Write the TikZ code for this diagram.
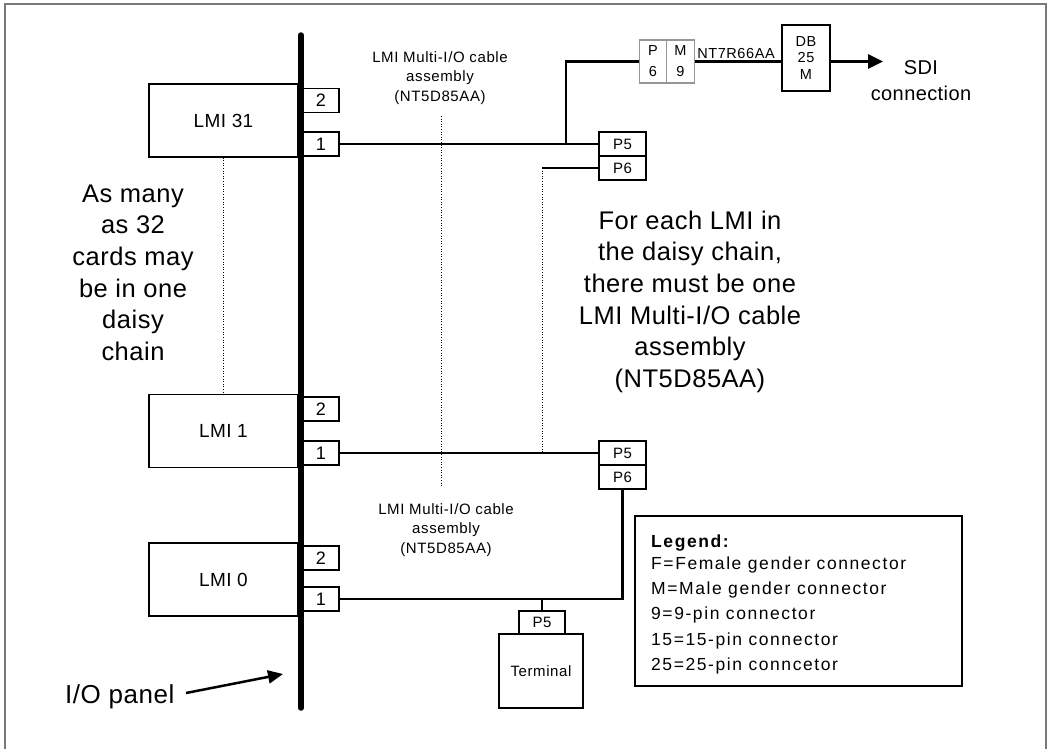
\documentclass[tikz,border=0pt]{standalone}
\usepackage{fontspec}
\setmainfont{Liberation Sans}
\newfontfamily\fA[LetterSpace=2]{Liberation Sans}
\newfontfamily\fL[LetterSpace=9]{Liberation Sans}
\newfontfamily\fS[LetterSpace=4]{Liberation Sans}
\usetikzlibrary{arrows.meta}
\definecolor{framegray}{RGB}{120,120,120}
\definecolor{boxgray}{RGB}{150,150,150}
\begin{document}
\begin{tikzpicture}[x=1pt,y=-1pt,
  box/.style={draw, line width=1.2pt, inner sep=0pt},
  card/.style={box, minimum width=149pt, minimum height=73pt, font=\fA\fontsize{19}{22}\selectfont},
  port/.style={box, minimum width=36pt, minimum height=24pt, font=\fA\fontsize{18}{20}\selectfont},
  pconn/.style={box, minimum width=47pt, minimum height=24pt, font=\fS\fontsize{15}{16}\selectfont},
  gcell/.style={draw=boxgray, line width=1.2pt, inner sep=0pt, minimum width=27.5pt, minimum height=43pt, align=center, font=\fS\fontsize{14.5}{21}\selectfont},
  cable/.style={line width=2.8pt},
  dots/.style={line width=1pt, dash pattern=on 1pt off 1.6pt},
  bigtext/.style={inner sep=0pt, align=center, font=\fA\fontsize{25.5}{31.7}\selectfont},
  smalltext/.style={inner sep=0pt, align=center, font=\fS\fontsize{15}{19.5}\selectfont}]
\useasboundingbox (0,0) rectangle (1050,748);
\fill[white] (0,0) rectangle (1050,748);
\draw[framegray, line width=1.5pt] (5,760) -- (5,4) -- (1046,4) -- (1046,760);

% I/O panel
\coordinate (panT) at (301,35);
\coordinate (panB) at (301,708);
\draw[line width=5.5pt, line cap=round] (panT) -- (panB);

% cards
\node[card] (lmi31) at (223.5,120.5) {LMI 31};
\node[card] (lmi1) at (223.5,431) {LMI 1};
\node[card] (lmi0) at (223.5,579.5) {LMI 0};

% ports
\node[port] (p31b) at (321,100.5) {2};
\node[port] (p31a) at (321,144) {1};
\node[port] (p1b) at (321,409) {2};
\node[port] (p1a) at (321,453) {1};
\node[port] (p0b) at (321,558) {2};
\node[port] (p0a) at (321,599) {1};

% connector pairs
\node[pconn] (p5a) at (622.5,144) {P5};
\node[pconn] (p6a) at (622.5,168) {P6};
\node[pconn] (p5b) at (622.5,453) {P5};
\node[pconn] (p6b) at (622.5,477) {P6};

% P6 / M9 adapter
\node[gcell] (pc) at (653,61.5) {P\\6};
\node[gcell] (mc) at (680.5,61.5) {M\\9};

% DB25M
\node[box, minimum width=48pt, minimum height=66pt, align=center, font=\fS\fontsize{14.5}{16.5}\selectfont] (db) at (806,58) {DB\\25\\M};

% terminal
\node[box, minimum width=46pt, minimum height=23pt, font=\fS\fontsize{15}{16}\selectfont] (tp5) at (542,622.5) {P5};
\node[box, minimum width=84pt, minimum height=74pt, font=\fS\fontsize{15}{18}\selectfont] (term) at (541,671) {Terminal};

% cables
\coordinate (br) at (566,144);
\coordinate (c6) at (542,168);
\coordinate (tj) at (542,599);
\coordinate (sdi) at (883,61.5);
\draw[cable] (p31a.east) -- (p5a.west);
\draw[cable] (br) |- (pc.west);
\draw[cable] (c6) -- (p6a.west);
\draw[cable] (mc.east) -- (mc.east -| db.west);
\draw[cable, -{Triangle[length=15pt,width=14pt]}] (db.east |- mc.east) -- (sdi);
\draw[cable] (p1a.east) -- (p5b.west);
\draw[cable] (p0a.east) -| (p6b.south);
\draw[line width=1.5pt] (tj) -- (tp5.north);

% dotted guides
\coordinate (d2a) at (441,116);
\coordinate (d2b) at (441,486);
\draw[dots] (lmi31.south) -- (lmi31.south |- lmi1.north);
\draw[dots] (d2a) -- (d2b);
\draw[dots] (c6) -- (c6 |- p5b.west);

% texts (anchor=base is the baseline of the last line)
\node[smalltext, anchor=base] (lab1) at (440,101) {LMI Multi-I/O cable\\assembly\\(NT5D85AA)};
\node[smalltext, anchor=base] (lab2) at (446,553) {LMI Multi-I/O cable\\assembly\\(NT5D85AA)};
\node[inner sep=0pt, anchor=base, font=\fS\fontsize{14.5}{17}\selectfont] (nt) at (736,58) {NT7R66AA};
\node[inner sep=0pt, anchor=base, align=center, font=\fA\fontsize{20}{26}\selectfont] (sditext) at (921,100) {SDI\\connection};
\node[bigtext, anchor=base] (many) at (133,360.5) {As many\\as 32\\cards may\\be in one\\daisy\\chain};
\node[bigtext, anchor=base] (each) at (690,387.5) {For each LMI in\\the daisy chain,\\there must be one\\LMI Multi-I/O cable\\assembly\\(NT5D85AA)};
\node[inner sep=0pt, anchor=base west, font=\fA\fontsize{26}{30}\selectfont] (iop) at (65,703) {I/O panel};
\coordinate (iopS) at (186,693);
\coordinate (iopE) at (283,674);
\draw[line width=2.5pt, -{Triangle[length=15pt,width=13pt]}] (iopS) -- (iopE);

% legend
\node[draw, line width=2pt, minimum width=327pt, minimum height=170pt, inner sep=0pt] (legend) at (798.5,601) {};
\node[inner sep=0pt, anchor=base west, align=left, font=\fL\fontsize{17.5}{25.4}\selectfont] (legtext) at (651,670.6) {\textbf{Legend:}\\[-3.4pt]F=Female gender connector\\M=Male gender connector\\9=9-pin connector\\15=15-pin connector\\25=25-pin conncetor};
\end{tikzpicture}
\end{document}
